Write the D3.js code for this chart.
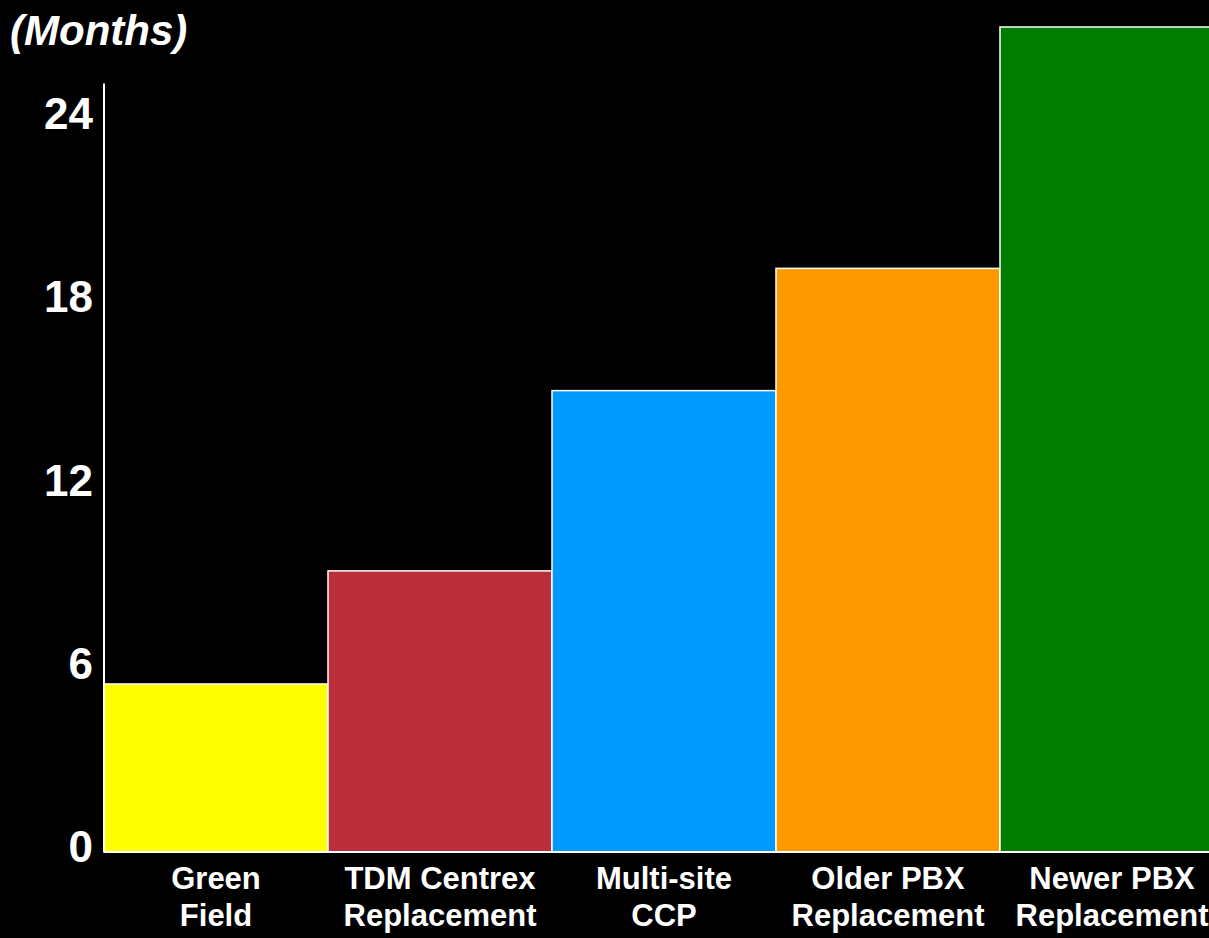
<!DOCTYPE html>
<html>
<head>
<meta charset="utf-8">
<script src="https://cdn.jsdelivr.net/npm/d3@7"></script>
<style>
  html, body { margin: 0; padding: 0; background: #000; overflow: hidden; }
  svg { display: block; }
  text { font-family: Arial, "Liberation Sans", sans-serif; font-weight: bold; fill: #fff; }
</style>
</head>
<body>
<svg width="1209" height="938"></svg>
<script>
// categories, each label split in two lines
var categories = ['Green Field', 'TDM Centrex Replacement', 'Multi-site CCP', 'Older PBX Replacement', 'Newer PBX Replacement'];
var labelLines = [['Green', 'Field'], ['TDM Centrex', 'Replacement'], ['Multi-site', 'CCP'], ['Older PBX', 'Replacement'], ['Newer PBX', 'Replacement']];
var months = [5.5, 9.2, 15.1, 19.1, 27];
var colors = ['#ffff00', '#ba2e3c', '#0099ff', '#ff9900', '#007c00'];
var yTicks = [0, 6, 12, 18, 24];
var yAxisTop = 25.15; // where the vertical axis line stops

var svg = d3.select('svg'),
    plotLeft = 104, plotRight = 1224, plotBase = 852, plotTop = 27;

var x = d3.scaleBand().domain(categories).range([plotLeft, plotRight]).paddingInner(0).paddingOuter(0);
var y = d3.scaleLinear().domain([0, 27]).range([plotBase, plotTop]);

// bars
svg.append('g').selectAll('rect')
  .data(categories)
  .enter().append('rect')
  .attr('x', function(d) { return x(d); })
  .attr('y', function(d, i) { return y(months[i]); })
  .attr('width', x.bandwidth())
  .attr('height', function(d, i) { return plotBase - y(months[i]); })
  .style('fill', function(d, i) { return colors[i]; })
  .style('stroke', '#fff')
  .style('stroke-width', 1.5);

// y axis, no tick marks
var yAxis = svg.append('g')
  .attr('transform', 'translate(' + plotLeft + ',0)')
  .call(d3.axisLeft(y).tickValues(yTicks).tickSize(0).tickPadding(11));
yAxis.select('.domain').remove();
yAxis.selectAll('text')
  .style('font-size', '44px')
  .attr('dy', '0.22em');

svg.append('line')
  .attr('x1', plotLeft).attr('x2', plotLeft)
  .attr('y1', y(yAxisTop)).attr('y2', plotBase)
  .style('stroke', '#fff').style('stroke-width', 2);

svg.append('line')
  .attr('x1', plotLeft).attr('x2', 1209)
  .attr('y1', plotBase).attr('y2', plotBase)
  .style('stroke', '#fff').style('stroke-width', 2);

// category labels
var lab = svg.append('g').selectAll('text')
  .data(categories)
  .enter().append('text')
  .attr('text-anchor', 'middle')
  .style('font-size', '31px')
  .attr('transform', function(d) { return 'translate(' + (x(d) + x.bandwidth() / 2) + ',0)'; });

lab.selectAll('tspan')
  .data(function(d, i) { return labelLines[i]; })
  .enter().append('tspan')
  .attr('x', 0)
  .attr('y', function(d, j) { return 889 + j * 37; })
  .text(function(d) { return d; });

// unit label
svg.append('text')
  .attr('x', 10)
  .attr('y', 45)
  .style('font-size', '42px')
  .style('font-style', 'italic')
  .text('(Months)');
</script>
</body>
</html>
